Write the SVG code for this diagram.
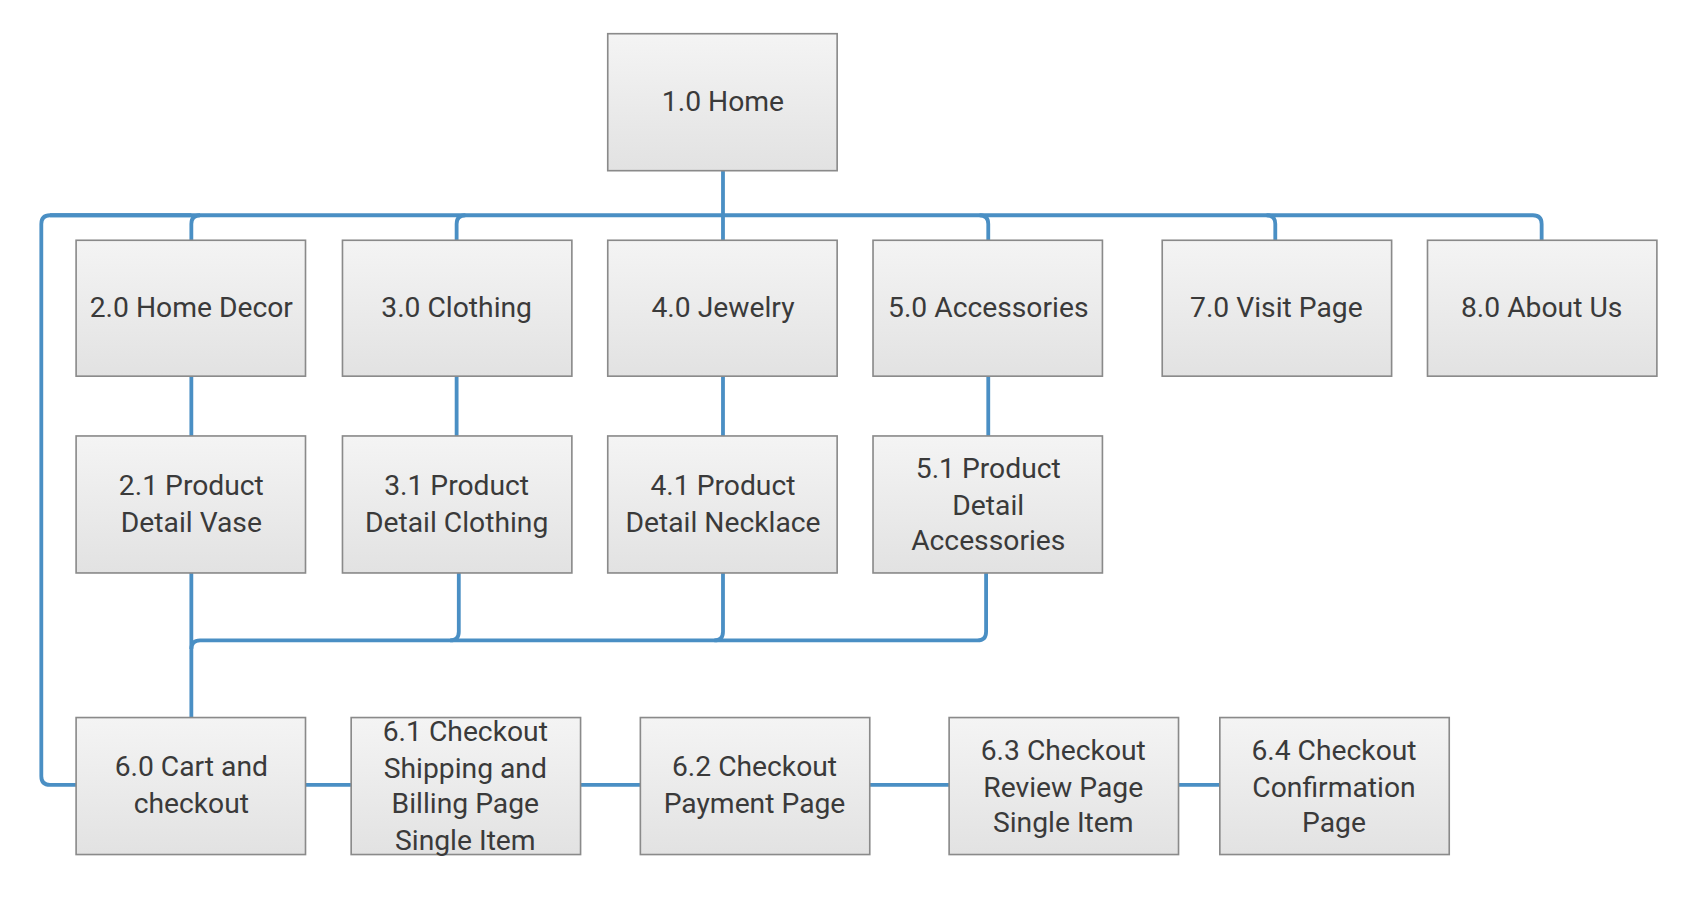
<svg xmlns="http://www.w3.org/2000/svg" width="1696" height="920" viewBox="0 0 1696 920">
<defs>
<linearGradient id="g" x1="0" y1="0" x2="0" y2="1"><stop offset="0" stop-color="#f4f4f4"/><stop offset="1" stop-color="#e2e2e2"/></linearGradient>
<style>
.b{fill:url(#g);stroke:#8a8a8a;stroke-width:1.5}
.t{font-family:Roboto,"Liberation Sans",sans-serif;font-size:26px;fill:#3a3a3a;text-anchor:middle}
.c{fill:none;stroke:#4a8fc4;stroke-width:3.5}
</style>
</defs>
<rect width="1696" height="920" fill="#fff"/>
<g transform="scale(1.0872)">
<g id="connectors" class="c">
<path d="M665 157V198"/>
<path d="M176 221V206Q176 198 184 198H1410Q1418 198 1418 206V221"/>
<path d="M46 198H176M420 221V206Q420 198 428 198M665 198V221M909 221V206Q909 198 901 198M1173 221V206Q1173 198 1165 198"/>
<path d="M184 198H46Q38 198 38 206V714Q38 722 46 722H70"/>
<path d="M176 346V401M420 346V401M665 346V401M909 346V401"/>
<path d="M176 527V660"/>
<path d="M176 597Q176 589 184 589H899Q907 589 907 581V527"/>
<path d="M422 527V581Q422 589 414 589M665 527V581Q665 589 657 589"/>
<path d="M281 722H323M534 722H589M800 722H873M1084 722H1122"/>
</g>
<g id="n1"><rect class="b" x="559" y="31" width="211" height="126"/><text class="t" x="665" y="102">1.0 Home</text></g>
<g id="n2"><rect class="b" x="70" y="221" width="211" height="125"/><text class="t" x="176" y="292">2.0 Home Decor</text></g>
<g id="n3"><rect class="b" x="315" y="221" width="211" height="125"/><text class="t" x="420" y="292">3.0 Clothing</text></g>
<g id="n4"><rect class="b" x="559" y="221" width="211" height="125"/><text class="t" x="665" y="292">4.0 Jewelry</text></g>
<g id="n5"><rect class="b" x="803" y="221" width="211" height="125"/><text class="t" x="909" y="292">5.0 Accessories</text></g>
<g id="n7"><rect class="b" x="1069" y="221" width="211" height="125"/><text class="t" x="1174" y="292">7.0 Visit Page</text></g>
<g id="n8"><rect class="b" x="1313" y="221" width="211" height="125"/><text class="t" x="1418" y="292">8.0 About Us</text></g>
<g id="n21"><rect class="b" x="70" y="401" width="211" height="126"/><text class="t" x="176" y="455">2.1 Product</text><text class="t" x="176" y="489">Detail Vase</text></g>
<g id="n31"><rect class="b" x="315" y="401" width="211" height="126"/><text class="t" x="420" y="455">3.1 Product</text><text class="t" x="420" y="489">Detail Clothing</text></g>
<g id="n41"><rect class="b" x="559" y="401" width="211" height="126"/><text class="t" x="665" y="455">4.1 Product</text><text class="t" x="665" y="489">Detail Necklace</text></g>
<g id="n51"><rect class="b" x="803" y="401" width="211" height="126"/><text class="t" x="909" y="440">5.1 Product</text><text class="t" x="909" y="474">Detail</text><text class="t" x="909" y="506">Accessories</text></g>
<g id="n60"><rect class="b" x="70" y="660" width="211" height="126"/><text class="t" x="176" y="714">6.0 Cart and</text><text class="t" x="176" y="748">checkout</text></g>
<g id="n61"><rect class="b" x="323" y="660" width="211" height="126"/><text class="t" x="428" y="682">6.1 Checkout</text><text class="t" x="428" y="716">Shipping and</text><text class="t" x="428" y="748">Billing Page</text><text class="t" x="428" y="782">Single Item</text></g>
<g id="n62"><rect class="b" x="589" y="660" width="211" height="126"/><text class="t" x="694" y="714">6.2 Checkout</text><text class="t" x="694" y="748">Payment Page</text></g>
<g id="n63"><rect class="b" x="873" y="660" width="211" height="126"/><text class="t" x="978" y="699">6.3 Checkout</text><text class="t" x="978" y="733">Review Page</text><text class="t" x="978" y="765">Single Item</text></g>
<g id="n64"><rect class="b" x="1122" y="660" width="211" height="126"/><text class="t" x="1227" y="699">6.4 Checkout</text><text class="t" x="1227" y="733">Confirmation</text><text class="t" x="1227" y="765">Page</text></g>
</g>
</svg>
